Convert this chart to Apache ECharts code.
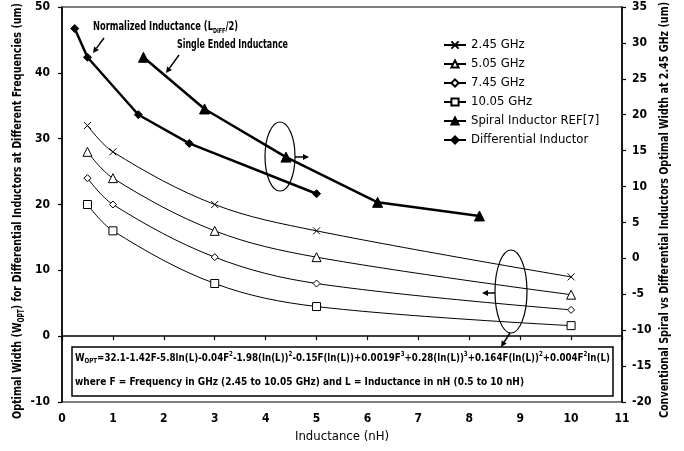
<!DOCTYPE html>
<html><head><meta charset="utf-8">
<script src="https://cdn.jsdelivr.net/npm/echarts@6/dist/echarts.min.js"></script>
<style>html,body{margin:0;padding:0;background:#fff}#c{width:684px;height:451px}</style>
</head><body><div id="c"></div>
<script>
// ---- data ----
const inductance = [0.5, 1, 3, 5, 10];
const w245 = [32, 28, 20, 16, 9];
const w505 = [28, 24, 16, 12, 6.3];
const w745 = [24, 20, 12, 8, 4];
const w1005 = [20, 16, 8, 4.5, 1.6];
const spiralL = [1.6, 2.8, 4.4, 6.2, 8.2];
const spiralW = [28, 20.8, 14.1, 7.8, 5.9];
const diffL = [0.25, 0.5, 1.5, 2.5, 5];
const diffW = [32, 28, 20, 16, 9];
const seriesNames = ['2.45 GHz', '5.05 GHz', '7.45 GHz', '10.05 GHz', 'Spiral Inductor REF[7]', 'Differential Inductor'];
const xRange = [0, 11, 1];
const leftRange = [-10, 50, 10];
const rightRange = [-20, 35, 5];

const FONT = "'Liberation Sans Narrow','DejaVu Sans Condensed',sans-serif";
const ctx2 = document.createElement('canvas').getContext('2d');
function tw(text, size, weight) { ctx2.font = (weight || 'normal') + ' ' + size + 'px ' + FONT; return ctx2.measureText(text).width; }

const pair = (xs, ys) => xs.map((x, i) => [x, ys[i]]);
const XPATH = 'path://M0,0L10,10M10,0L0,10';

function freqSeries(name, ys, symbol, size) {
  return { name, type: 'line', xAxisIndex: 0, yAxisIndex: 0, data: pair(inductance, ys),
    symbol, symbolSize: size, smooth: 0.35, showSymbol: true,
    lineStyle: { color: '#000', width: 1 },
    itemStyle: { color: '#fff', borderColor: '#000', borderWidth: 1 } };
}
function thickSeries(name, xs, ys, symbol, size) {
  return { name, type: 'line', xAxisIndex: 0, yAxisIndex: 1, data: pair(xs, ys),
    symbol, symbolSize: size, smooth: false,
    lineStyle: { color: '#000', width: 2.5 },
    itemStyle: { color: '#000', borderColor: '#000', borderWidth: 1 } };
}

function richText(segs, size, subSize) {
  let txt = '', w = 0;
  segs.forEach(([k, s]) => { txt += '{' + k + '|' + s + '}'; w += tw(s, k === 'n' ? size : subSize, 'bold'); });
  return { txt, w };
}
function richStyle(size, subSize) {
  return {
    n: { fontSize: size, fontFamily: FONT, fontWeight: 'bold', lineHeight: size + 3, fill: '#000' },
    sub: { fontSize: subSize, fontFamily: FONT, fontWeight: 'bold', verticalAlign: 'bottom', fill: '#000' },
    sup: { fontSize: subSize, fontFamily: FONT, fontWeight: 'bold', verticalAlign: 'top', fill: '#000' }
  };
}
function textEl(segs, x, y, size, subSize, target, opts) {
  const r = richText(segs, size, subSize);
  const sx = target / r.w;
  return Object.assign({ type: 'text', x, y, scaleX: sx, z: 100,
    style: Object.assign({ text: r.txt, rich: richStyle(size, subSize), fill: '#000' }, opts.style || {}) }, opts.el || {});
}
function arrow(x1, y1, x2, y2, lw) {
  const a = Math.atan2(y2 - y1, x2 - x1), L = 6, W = 3;
  const bx = x2 - L * Math.cos(a), by = y2 - L * Math.sin(a);
  return [
    { type: 'line', z: 100, shape: { x1, y1, x2: bx, y2: by }, style: { stroke: '#000', lineWidth: lw || 1.5 } },
    { type: 'polygon', z: 100, shape: { points: [[x2, y2], [bx - W * Math.sin(a), by + W * Math.cos(a)], [bx + W * Math.sin(a), by - W * Math.cos(a)]] }, style: { fill: '#000' } }
  ];
}

const leftTitle = textEl([['n', 'Optimal Width (W'], ['sub', 'OPT'], ['n', ') for Differential Inductors at Different Frequencies (um)']],
  18, 211, 13, 8, 416, { style: { align: 'center', verticalAlign: 'middle' }, el: { rotation: Math.PI / 2 } });
const rightTitle = textEl([['n', 'Conventional Spiral vs Differential Inductors Optimal Width at 2.45 GHz (um)']],
  665, 210, 13, 8, 416, { style: { align: 'center', verticalAlign: 'middle' }, el: { rotation: Math.PI / 2 } });
const ann1 = textEl([['n', 'Normalized Inductance (L'], ['sub', 'DIFF'], ['n', '/2)']], 93, 27, 12, 7, 145, { style: { align: 'left', verticalAlign: 'middle' } });
const ann2 = textEl([['n', 'Single Ended Inductance']], 177, 45, 12, 7, 111, { style: { align: 'left', verticalAlign: 'middle' } });
const f1 = textEl([['n', 'W'], ['sub', 'OPT'], ['n', '=32.1-1.42F-5.8ln(L)-0.04F'], ['sup', '2'], ['n', '-1.98(ln(L))'], ['sup', '2'],
  ['n', '-0.15F(ln(L))+0.0019F'], ['sup', '3'], ['n', '+0.28(ln(L))'], ['sup', '3'], ['n', '+0.164F(ln(L))'], ['sup', '2'],
  ['n', '+0.004F'], ['sup', '2'], ['n', 'ln(L)']], 75, 358, 11, 7, 535, { style: { align: 'left', verticalAlign: 'middle' } });
const f2 = textEl([['n', 'where F = Frequency in GHz (2.45 to 10.05 GHz) and L = Inductance in nH (0.5 to 10 nH)']], 75, 382, 11, 7, 449,
  { style: { align: 'left', verticalAlign: 'middle' } });

const graphics = [
  leftTitle, rightTitle, ann1, ann2, f1, f2,
  { type: 'rect', z: 90, shape: { x: 72, y: 347, width: 541, height: 49 }, style: { fill: '#fff', stroke: '#000', lineWidth: 1.5 } },
  { type: 'ellipse', z: 100, shape: { cx: 280, cy: 156.5, rx: 15, ry: 34.5 }, style: { fill: 'none', stroke: '#000', lineWidth: 1.2 } },
  { type: 'ellipse', z: 100, shape: { cx: 511, cy: 291.5, rx: 16, ry: 41.5 }, style: { fill: 'none', stroke: '#000', lineWidth: 1.2 } },
  ...arrow(104, 38, 93, 53, 1.5),
  ...arrow(179, 55, 166, 73, 1.5),
  ...arrow(295, 157, 309, 157, 1.5),
  ...arrow(495, 293, 482, 293, 1.5),
  ...arrow(510, 333, 501, 347, 1.5)
];

const axisLabel = { color: '#000', fontFamily: FONT, fontSize: 12, fontWeight: 'bold' };
const option = {
  animation: false,
  backgroundColor: '#fff',
  grid: { left: 62, right: 62, top: 7, bottom: 49, show: true, borderColor: '#000', borderWidth: 1.2, containLabel: false },
  legend: {
    orient: 'vertical', left: 438, top: 33, itemWidth: 22, itemHeight: 9, itemGap: 5,
    data: seriesNames,
    textStyle: { color: '#000', fontFamily: FONT, fontSize: 13, lineHeight: 14 }
  },
  xAxis: {
    type: 'value', min: xRange[0], max: xRange[1], interval: xRange[2],
    name: 'Inductance (nH)', nameLocation: 'middle', nameGap: 27,
    nameTextStyle: { color: '#000', fontFamily: FONT, fontSize: 13 },
    axisLine: { lineStyle: { color: '#000', width: 1.5 } },
    axisTick: { show: true, length: 4, lineStyle: { color: '#000', width: 1.2 } },
    axisLabel: Object.assign({ margin: 11 }, axisLabel),
    splitLine: { show: false }
  },
  yAxis: [
    { type: 'value', position: 'left', min: leftRange[0], max: leftRange[1], interval: leftRange[2],
      axisLine: { show: true, lineStyle: { color: '#000', width: 1.5 } },
      axisTick: { show: true, length: 4, lineStyle: { color: '#000', width: 1.2 } },
      axisLabel: Object.assign({ margin: 12 }, axisLabel), splitLine: { show: false } },
    { type: 'value', position: 'right', min: rightRange[0], max: rightRange[1], interval: rightRange[2],
      axisLine: { show: true, lineStyle: { color: '#000', width: 1.5 } },
      axisTick: { show: true, length: 4, lineStyle: { color: '#000', width: 1.2 } },
      axisLabel: Object.assign({ margin: 10 }, axisLabel), splitLine: { show: false } }
  ],
  series: [
    freqSeries(seriesNames[0], w245, XPATH, 7),
    freqSeries(seriesNames[1], w505, 'triangle', 9),
    freqSeries(seriesNames[2], w745, 'diamond', 7),
    freqSeries(seriesNames[3], w1005, 'rect', 8),
    thickSeries(seriesNames[4], spiralL, spiralW, 'triangle', 10),
    thickSeries(seriesNames[5], diffL, diffW, 'diamond', 8)
  ],
  graphic: graphics
};
const chart = echarts.init(document.getElementById('c'), null, { renderer: 'canvas' });
chart.setOption(option);
</script>
</body></html>
